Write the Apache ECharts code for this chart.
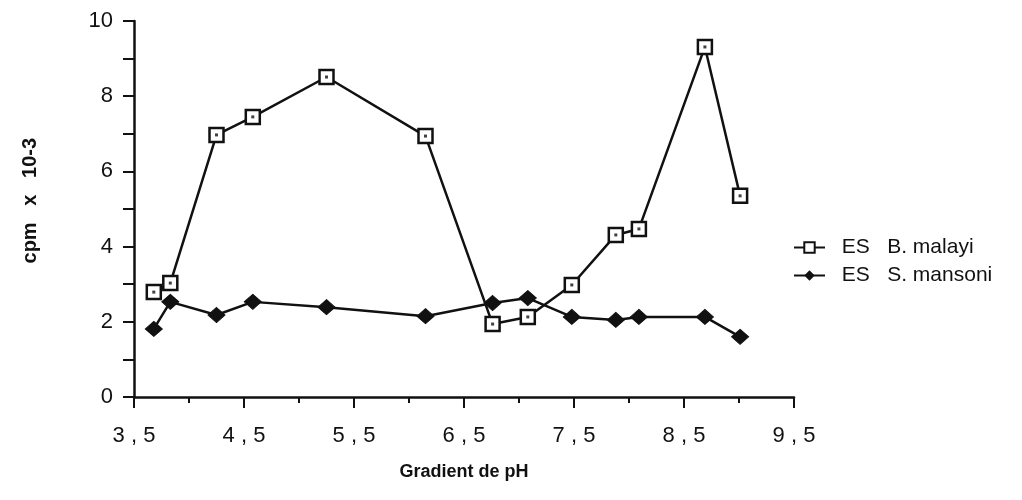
<!DOCTYPE html>
<html><head><meta charset="utf-8">
<script src="https://cdn.jsdelivr.net/npm/echarts@6/dist/echarts.min.js"></script>
<style>html,body{margin:0;padding:0;background:#fff}#c{width:1022px;height:500px}</style>
</head><body><div id="c"></div>
<script>
var phValues = [3.68, 3.83, 4.25, 4.58, 5.25, 6.15, 6.76, 7.08, 7.48, 7.88, 8.09, 8.69, 9.01];
var malayi = [2.79, 3.03, 6.97, 7.45, 8.51, 6.94, 1.94, 2.13, 2.98, 4.31, 4.47, 9.31, 5.35];
var mansoni = [1.81, 2.53, 2.18, 2.53, 2.39, 2.15, 2.50, 2.63, 2.13, 2.05, 2.13, 2.13, 1.60];
var seriesNames = ['ES   B. malayi', 'ES   S. mansoni'];
var xTickLabels = {3.5:'3 , 5',4.5:'4 , 5',5.5:'5 , 5',6.5:'6 , 5',7.5:'7 , 5',8.5:'8 , 5',9.5:'9 , 5'};
var yTickLabels = {0:'0',2:'2',4:'4',6:'6',8:'8',10:'10'};

function pairs(xs, ys){ return xs.map(function(x,i){return [x, ys[i]];}); }
var font = 'Liberation Sans, Arial, sans-serif';
var ink = '#111';
var chart = echarts.init(document.getElementById('c'));
chart.setOption({
  backgroundColor:'#fff',
  animation:false,
  grid:{left:134,right:228,top:21,bottom:103},
  legend:{
    orient:'vertical', left:788, top:232, itemGap:7, itemWidth:31, itemHeight:13,
    textStyle:{fontFamily:font,fontSize:21,color:ink},
    formatter:function(n){ return '  ' + n; },
    data:seriesNames
  },
  xAxis:{
    type:'value', min:3.5, max:9.5, interval:1,
    name:'Gradient de pH', nameLocation:'middle', nameGap:66,
    nameTextStyle:{fontFamily:font,fontSize:18,fontWeight:'bold',color:ink},
    axisLine:{lineStyle:{color:ink,width:2.5}},
    axisTick:{lineStyle:{color:ink,width:2},length:11},
    minorTick:{show:true,splitNumber:2,length:6,lineStyle:{color:ink,width:2}},
    axisLabel:{fontFamily:font,fontSize:22,color:ink,margin:28,
      formatter:function(v){ var k=Math.round(v*10)/10; return xTickLabels[k]||''; }},
    splitLine:{show:false}
  },
  yAxis:{
    type:'value', min:0, max:10, interval:1,
    name:'   cpm   x   10-3', nameLocation:'middle', nameGap:94, nameRotate:90,
    nameTextStyle:{fontFamily:font,fontSize:20,fontWeight:'bold',color:ink},
    axisLine:{show:true,lineStyle:{color:ink,width:2.5}},
    axisTick:{show:true,lineStyle:{color:ink,width:2},length:11},
    axisLabel:{fontFamily:font,fontSize:22,color:ink,margin:21,
      formatter:function(v){ return yTickLabels[v]!==undefined?yTickLabels[v]:''; }},
    splitLine:{show:false}
  },
  series:[
    {name:seriesNames[0],type:'line',data:pairs(phValues,malayi),
     symbol:'rect',symbolSize:14,z:3,
     lineStyle:{color:ink,width:2.5},
     itemStyle:{color:'#fff',borderColor:ink,borderWidth:2.5}},
    {name:'dots',type:'scatter',data:pairs(phValues,malayi),symbol:'rect',symbolSize:3,z:4,
     itemStyle:{color:ink},silent:true},
    {name:seriesNames[1],type:'line',data:pairs(phValues,mansoni),
     symbol:'diamond',symbolSize:[17,15],z:2,
     lineStyle:{color:ink,width:2.5},
     itemStyle:{color:ink,borderColor:ink}}
  ]
});
</script></body></html>
